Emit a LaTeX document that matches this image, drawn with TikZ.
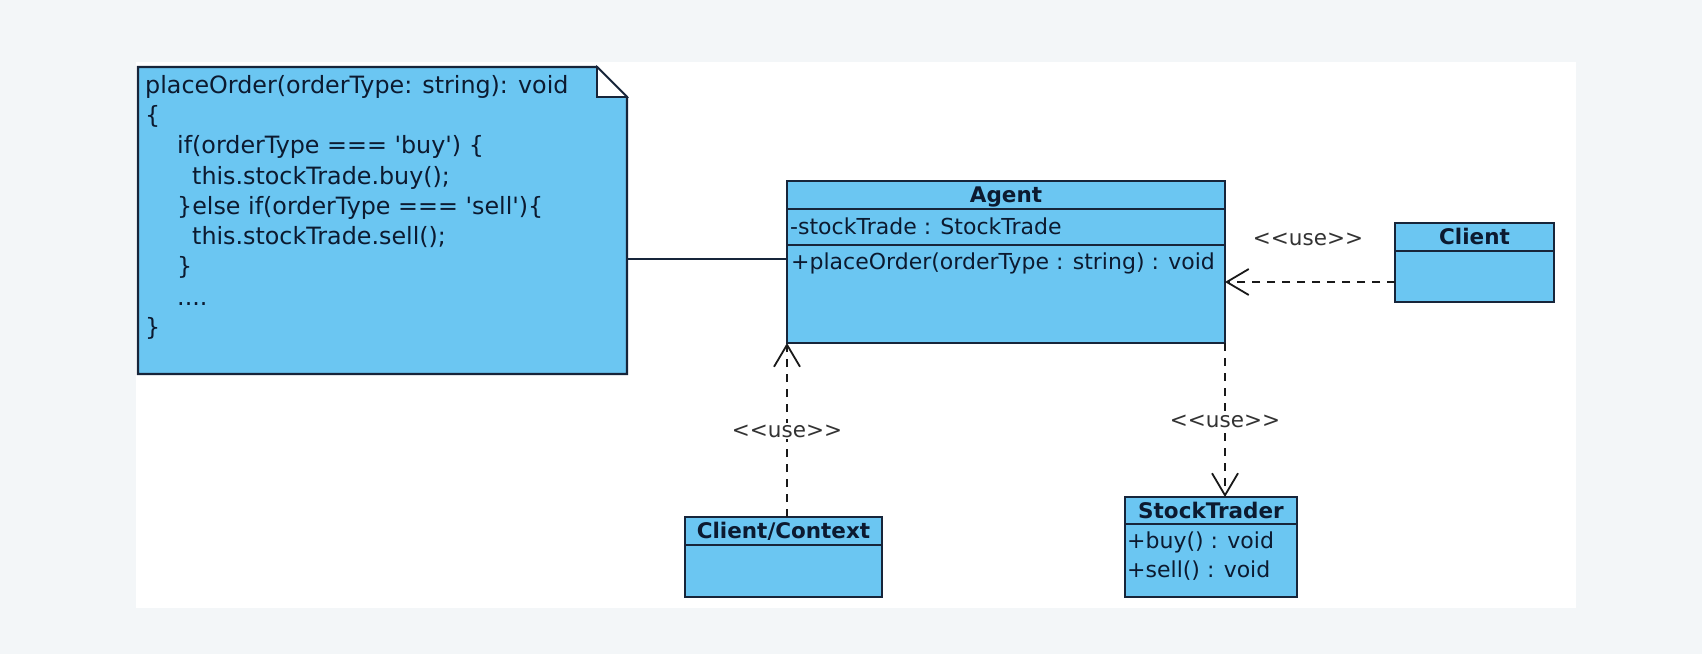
\documentclass[tikz,border=0pt]{standalone}
\usepackage{fontspec}
\setmainfont{DejaVu Sans}
\usetikzlibrary{arrows.meta}
\definecolor{bgc}{HTML}{F3F6F8}
\definecolor{boxc}{HTML}{6BC6F2}
\definecolor{linec}{HTML}{17253A}
\definecolor{txtc}{HTML}{0C1A30}
\begin{document}
\begin{tikzpicture}[x=1pt,y=-1pt,
  cls/.style={draw=linec, fill=boxc, line width=2.3pt, anchor=north west, inner sep=0pt, outer sep=0pt},
  divider/.style={draw=linec, line width=2.3pt},
  ctitle/.style={font=\fontsize{21.5}{26}\selectfont\bfseries, text=txtc, inner sep=0pt, anchor=base},
  member/.style={font=\fontsize{22}{26}\selectfont, text=txtc, inner sep=0pt, anchor=base west},
  usel/.style={font=\fontsize{21.5}{24}\selectfont, text=black!80, inner sep=2pt, anchor=base},
  dep/.style={draw=black!90, line width=1.8pt, dash pattern=on 8pt off 7pt,
    -{Straight Barb[length=22pt,width=26pt,line width=1.8pt]}},
  assoc/.style={draw=linec, line width=2.2pt},
]
% background and white panel
\fill[bgc] (0,0) rectangle (1702,654);
\fill[white] (136,62) rectangle (1576,608);
\useasboundingbox (0,0) rectangle (1702,654);

% note
\node[anchor=north west, minimum width=489pt, minimum height=307pt, inner sep=0pt, outer sep=0pt] (note) at (138,67) {};
\draw[linec, fill=boxc, line width=2.3pt, line join=miter]
  (note.north west) -- ([xshift=-30pt]note.north east) -- ([yshift=-30pt]note.north east)
  -- (note.south east) -- (note.south west) -- cycle;
\draw[linec, fill=white, line width=1.6pt, line join=miter]
  ([xshift=-30pt]note.north east) -- ([xshift=-30pt,yshift=-30pt]note.north east)
  -- ([yshift=-30pt]note.north east) -- cycle;
\node[anchor=north west, align=left, inner sep=0pt, text=txtc,
      font=\fontsize{23.8}{30.25}\selectfont] (notetext) at (145,75)
{placeOrder(orderType: string): void\\
\{\\
\hspace*{32pt}if(orderType === \textquotesingle buy\textquotesingle) \{\\
\hspace*{47pt}this.stockTrade.buy();\\
\hspace*{32pt}\}else if(orderType === \textquotesingle sell\textquotesingle)\{\\
\hspace*{47pt}this.stockTrade.sell();\\
\hspace*{32pt}\}\\
\hspace*{32pt}....\\
\}};

% Agent
\node[cls, minimum width=438pt, minimum height=162pt] (agent) at (787,181) {};
\draw[divider] ([yshift=-28pt]agent.north west) -- ([yshift=-28pt]agent.north east);
\draw[divider] ([yshift=-64pt]agent.north west) -- ([yshift=-64pt]agent.north east);
\node[ctitle] (agentt) at (1006,202) {Agent};
\node[member] (agenta) at (790,234) {-stockTrade : StockTrade};
\node[member] (agento) at (791,269) {+placeOrder(orderType : string) : void};

% Client
\node[cls, minimum width=159pt, minimum height=79pt] (client) at (1395,223) {};
\draw[divider] ([yshift=-28pt]client.north west) -- ([yshift=-28pt]client.north east);
\node[ctitle] (clientt) at (1474.5,244) {Client};

% Client/Context
\node[cls, minimum width=197pt, minimum height=80pt] (ctx) at (685,517) {};
\draw[divider] ([yshift=-28pt]ctx.north west) -- ([yshift=-28pt]ctx.north east);
\node[ctitle] (ctxt) at (783.5,538) {Client/Context};

% StockTrader
\node[cls, minimum width=172pt, minimum height=100pt] (st) at (1125,497) {};
\draw[divider] ([yshift=-27pt]st.north west) -- ([yshift=-27pt]st.north east);
\node[ctitle] (stt) at (1211,518) {StockTrader};
\node[member] (stb) at (1127,548) {+buy() : void};
\node[member] (sts) at (1127,577) {+sell() : void};

% connectors
\draw[assoc] ([yshift=3pt]agent.west -| note.east) -- ([yshift=3pt]agent.west);
\draw[dep] ([yshift=-19.5pt]client.west) -- ([yshift=-19.5pt]client.west -| agent.east);
\draw[dep] (agent.south west |- ctx.north) -- (agent.south west);
\draw[dep] (agent.south east) -- (agent.south east |- st.north);

% labels
\node[usel] (u1) at (1308,245) {<{}<use>{}>};
\node[usel, fill=white] (u2) at (787,437) {<{}<use>{}>};
\node[usel, fill=white] (u3) at (1225,427) {<{}<use>{}>};
\end{tikzpicture}
\end{document}
